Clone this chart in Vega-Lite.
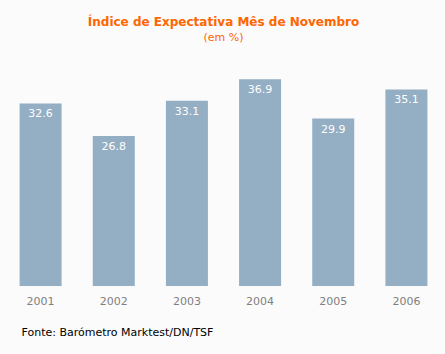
{
  "$schema": "https://vega.github.io/schema/vega-lite/v6.json",
  "width": 439,
  "height": 224,
  "autosize": "none",
  "padding": {"left": 4, "top": 62, "right": 2, "bottom": 68},
  "background": "#fbfbfb",
  "config": {"view": {"stroke": null}, "font": "DejaVu Sans"},
  "title": {
    "text": "Índice de Expectativa Mês de Novembro",
    "subtitle": "(em %)",
    "color": "#ff6600",
    "subtitleColor": "#ff6600",
    "fontSize": 12,
    "fontWeight": "bold",
    "subtitleFontSize": 11,
    "subtitlePadding": 3,
    "anchor": "middle",
    "offset": 18,
    "font": "DejaVu Sans",
    "subtitleFont": "DejaVu Sans"
  },
  "data": {
    "values": [
      {"year": "2001", "value": 32.6},
      {"year": "2002", "value": 26.8},
      {"year": "2003", "value": 33.1},
      {"year": "2004", "value": 36.9},
      {"year": "2005", "value": 29.9},
      {"year": "2006", "value": 35.1}
    ]
  },
  "encoding": {
    "x": {
      "field": "year",
      "type": "nominal",
      "scale": {"paddingInner": 0.426, "paddingOuter": 0.213},
      "axis": {
        "title": "Fonte: Barómetro Marktest/DN/TSF",
        "titleFont": "DejaVu Sans",
        "titleFontSize": 11,
        "titleFontWeight": "normal",
        "titleColor": "#000000",
        "titleAnchor": "start",
        "titleAlign": "left",
        "titleX": 17,
        "titlePadding": 20,
        "labelAngle": 0,
        "labelFontSize": 11,
        "labelColor": "#808080",
        "labelPadding": 9,
        "domain": false,
        "ticks": false
      }
    },
    "y": {
      "field": "value",
      "type": "quantitative",
      "scale": {"domain": [0, 40], "nice": false},
      "axis": null
    }
  },
  "layer": [
    {"mark": {"type": "bar", "color": "#94aec4"}},
    {
      "mark": {"type": "text", "color": "#ffffff", "fontSize": 11, "baseline": "top", "dy": 5},
      "encoding": {"text": {"field": "value", "type": "quantitative", "format": ".1f"}}
    }
  ]
}
